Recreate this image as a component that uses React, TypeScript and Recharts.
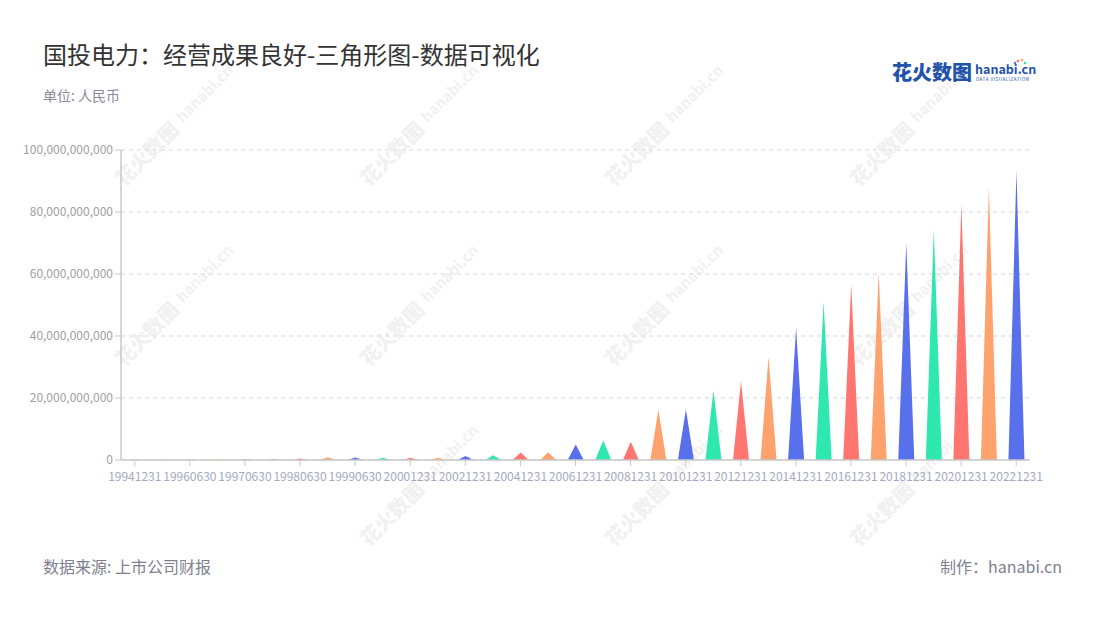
import { BarChart, Bar, XAxis, YAxis, CartesianGrid, Cell } from "recharts";

const periods = [
  "19941231", "19951231", "19960630", "19961231", "19970630", "19971231",
  "19980630", "19981231", "19990630", "19991231", "20001231", "20011231",
  "20021231", "20031231", "20041231", "20051231", "20061231", "20071231",
  "20081231", "20091231", "20101231", "20111231", "20121231", "20131231",
  "20141231", "20151231", "20161231", "20171231", "20181231", "20191231",
  "20201231", "20211231", "20221231",
];

const revenue = [
  120000000, 100000000, 150000000, 200000000, 200000000, 300000000,
  450000000, 850000000, 800000000, 750000000, 750000000, 750000000,
  1300000000, 1500000000, 2400000000, 2500000000, 5000000000, 6300000000,
  5900000000, 16300000000, 16300000000, 22500000000, 25500000000, 33400000000,
  42700000000, 51100000000, 56700000000, 60300000000, 70000000000, 74300000000,
  82500000000, 87900000000, 93400000000,
];

const yTicks = [0, 20000000000, 40000000000, 60000000000, 80000000000, 100000000000];

const COLORS = ["#5870eb", "#2ee8b0", "#ff7670", "#ffa36e"];

const data = periods.map((p, i) => ({ period: p, value: revenue[i] }));

const FONT = '"Noto Sans CJK SC", "Noto Sans", sans-serif';

function Triangle(props: any) {
  const { x, y, width, height, fill } = props;
  if (!height || height <= 0) return null;
  const mid = x + width / 2;
  return <path d={`M${x},${y + height} L${mid},${y} L${x + width},${y + height} Z`} fill={fill} />;
}

// watermark anchors
const marks = [
  [150, 150], [395, 150], [640, 150], [885, 150],
  [150, 330], [395, 330], [640, 330], [885, 330],
  [395, 510], [640, 510], [885, 510],
];

export default function App() {
  return (
    <div style={{ position: "absolute", left: 0, top: 0, width: 1100, height: 620, background: "#fff", fontFamily: FONT }}>
      <svg width={1100} height={620} style={{ position: "absolute", left: 0, top: 0 }}>
        {marks.map(([cx, cy], i) => (
          <g key={i} transform={`translate(${cx},${cy}) rotate(-45)`} fill="#f1f1f1" fontFamily={FONT}>
            <text x={-45} y={8} fontSize={20} fontWeight={900}>花火数图</text>
            <text x={42} y={4} fontSize={15} fontWeight={700}>hanabi.cn</text>
          </g>
        ))}
      </svg>
      <div style={{ position: "absolute", left: 0, top: 0 }}>
        <BarChart width={1100} height={620} data={data} margin={{ top: 150, right: 70, bottom: 130, left: 8 }}>
          <CartesianGrid vertical={false} stroke="#e3e3e3" strokeDasharray="4 4" strokeWidth={1.5} />
          <XAxis
            dataKey="period"
            interval={1}
            height={30}
            tickMargin={6}
            tick={{ fill: "#a4a9bd", fontSize: 12, fontFamily: FONT }}
            tickLine={{ stroke: "#c8c8c8" }}
            axisLine={{ stroke: "#c8c8c8", strokeWidth: 1.5 }}
          />
          <YAxis
            width={113}
            domain={[0, 100000000000]}
            ticks={yTicks}
            tickFormatter={(v: number) => v.toLocaleString("en-US")}
            tick={{ fill: "#a0a0a0", fontSize: 12, fontFamily: FONT }}
            tickLine={{ stroke: "#c8c8c8" }}
            axisLine={{ stroke: "#c8c8c8", strokeWidth: 1.5 }}
          />
          <Bar dataKey="value" barSize={16} shape={<Triangle />} isAnimationActive={false}>
            {data.map((_, i) => (
              <Cell key={`cell-${i}`} fill={COLORS[i % COLORS.length]} />
            ))}
          </Bar>
        </BarChart>
      </div>
      <svg width={1100} height={620} style={{ position: "absolute", left: 0, top: 0, pointerEvents: "none" }} fontFamily={FONT}>
        <text x={43} y={64} fontSize={24} fill="#333">国投电力：经营成果良好-三角形图-数据可视化</text>
        <text x={43} y={101} fontSize={14} fill="#8a8a99">单位: 人民币</text>
        <text x={43} y={573} fontSize={16} fill="#7f7f8f">数据来源: 上市公司财报</text>
        <text x={1062} y={573} fontSize={16} fill="#7f7f8f" textAnchor="end">制作：hanabi.cn</text>
        <text x={892} y={80} fontSize={20} fontWeight={900} fill="#2353a8">花火数图</text>
        <text x={975} y={74} fontSize={12.5} fontWeight={700} fill="#2353a8">hanabi.cn</text>
        <text x={976} y={81} fontSize={4.6} fill="#2353a8" letterSpacing={0.5}>DATA VISUALIZATION</text>
        <circle cx={1018} cy={61} r={1.3} fill="#ff7670" />
        <circle cx={1022} cy={60} r={1.3} fill="#ffa36e" />
        <circle cx={1025} cy={63} r={1.3} fill="#2ee8b0" />
        <circle cx={1015} cy={63} r={1.3} fill="#5870eb" />
      </svg>
    </div>
  );
}
